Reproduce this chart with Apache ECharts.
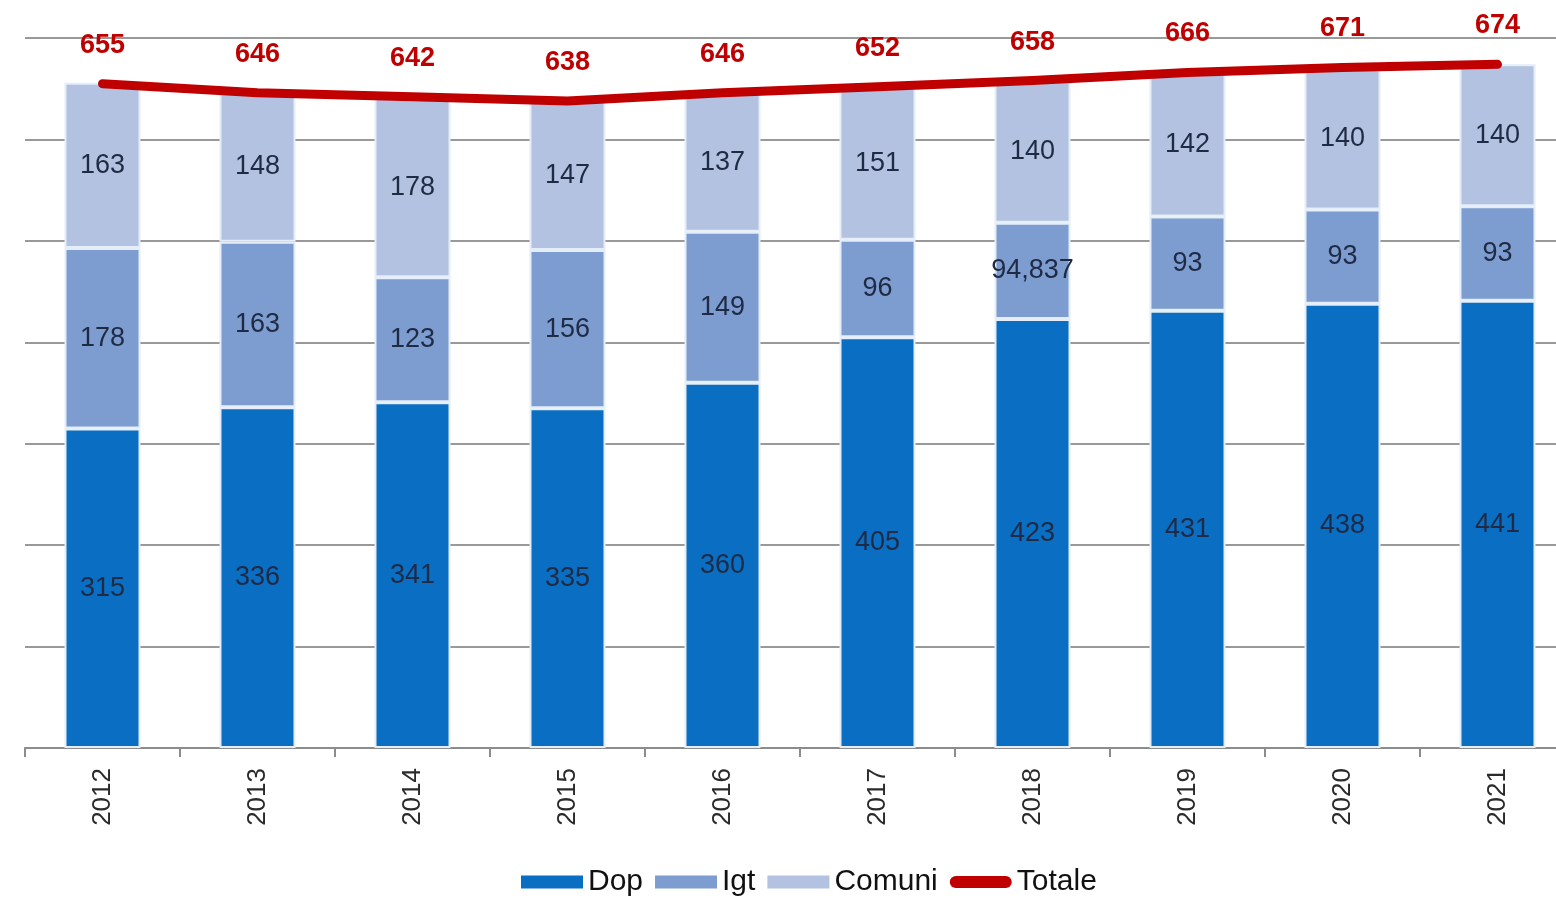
<!DOCTYPE html>
<html>
<head>
<meta charset="utf-8">
<script src="https://cdn.jsdelivr.net/npm/echarts@6/dist/echarts.min.js"></script>
<style>
  html, body { margin: 0; padding: 0; background: #fff; overflow: hidden; }
  /* the reference is cropped on the right, so the canvas is a bit wider than the window */
  #chart { width: 1575px; height: 900px; }
</style>
</head>
<body>
<div id="chart"></div>
<script>
const years = ['2012', '2013', '2014', '2015', '2016', '2017', '2018', '2019', '2020', '2021'];
const dop = [315, 336, 341, 335, 360, 405, 423, 431, 438, 441];
const igt = [178, 163, 123, 156, 149, 96, 94.837, 93, 93, 93];
const comuni = [163, 148, 178, 147, 137, 151, 140, 142, 140, 140];
const totale = [655, 646, 642, 638, 646, 652, 658, 666, 671, 674];

const font = 'Liberation Sans, Arial, sans-serif';

const barLabel = {
  show: true,
  position: 'inside',
  color: '#1f2a44',
  fontSize: 27,
  fontFamily: font,
  formatter: p => String(p.value).replace('.', ',')
};

const barStyle = color => ({
  color: color,
  borderColor: '#e4edf8',
  borderWidth: 2
});

var myChart = echarts.init(document.getElementById('chart'));
var option = {
  animation: false,
  grid: {
    left: 25,
    top: 38,
    right: 0,
    bottom: 152
  },
  legend: {
    top: 862,
    left: 516,
    itemWidth: 62,
    itemHeight: 13,
    itemGap: 12,
    itemStyle: { borderWidth: 0 },
    textStyle: { fontSize: 30, color: '#111', fontFamily: font },
    data: [
      { name: 'Dop', icon: 'rect' },
      { name: 'Igt', icon: 'rect' },
      { name: 'Comuni', icon: 'rect' },
      { name: 'Totale', icon: 'path://M6,0 H56 A6,6 0 0 1 56,12 H6 A6,6 0 0 1 6,0 Z' }
    ]
  },
  xAxis: {
    type: 'category',
    data: years,
    axisLine: { lineStyle: { color: '#8c8c8c', width: 2 } },
    axisTick: { show: true, length: 9, lineStyle: { color: '#8c8c8c', width: 2 } },
    axisLabel: {
      rotate: 90,
      margin: 20,
      fontSize: 26,
      color: '#2a2a2a',
      fontFamily: font
    }
  },
  yAxis: {
    type: 'value',
    min: 0,
    max: 700,
    interval: 100,
    axisLabel: { show: false },
    axisLine: { show: false },
    axisTick: { show: false },
    splitLine: { lineStyle: { color: '#999', width: 2 } }
  },
  series: [
    {
      name: 'Dop',
      type: 'bar',
      stack: 'tot',
      barWidth: 76,
      data: dop,
      itemStyle: barStyle('#0a6ec2'),
      label: barLabel
    },
    {
      name: 'Igt',
      type: 'bar',
      stack: 'tot',
      data: igt,
      itemStyle: barStyle('#7d9ccf'),
      label: barLabel
    },
    {
      name: 'Comuni',
      type: 'bar',
      stack: 'tot',
      data: comuni,
      itemStyle: barStyle('#b2c2e0'),
      label: barLabel
    },
    {
      name: 'Totale',
      type: 'line',
      data: totale,
      symbol: 'circle',
      symbolSize: 2,
      showSymbol: true,
      z: 5,
      lineStyle: { color: '#c00000', width: 9, cap: 'round', join: 'round' },
      itemStyle: { color: '#c00000' },
      label: {
        show: true,
        position: 'top',
        distance: 24,
        color: '#c00000',
        fontSize: 27,
        fontWeight: 'bold',
        fontFamily: font
      }
    }
  ]
};
myChart.setOption(option, true);
</script>
</body>
</html>
